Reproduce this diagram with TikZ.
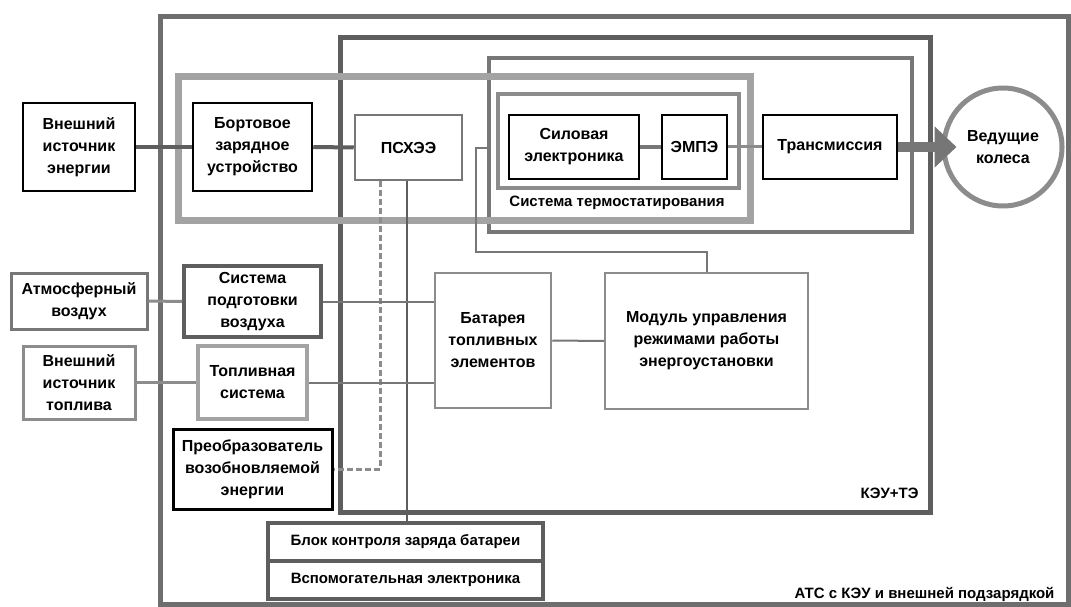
\documentclass[tikz,border=0pt]{standalone}
\usepackage{fontspec}
\setmainfont{Liberation Sans}
\usetikzlibrary{arrows.meta}
\definecolor{fdark}{HTML}{5E5E5E}
\definecolor{fmid}{HTML}{777777}
\definecolor{flight}{HTML}{8C8C8C}
\definecolor{fpale}{HTML}{A3A3A3}
\begin{document}
\begin{tikzpicture}[x=1pt,y=-1pt,
  txt/.style={font=\bfseries\fontsize{16}{22}\selectfont, align=center},
  lbl/.style={font=\bfseries\fontsize{15}{20}\selectfont, align=center},
  blk/.style={txt, draw=black, fill=white, line width=2.5pt, inner sep=0pt},
  gblk/.style={txt, draw=fmid, fill=white, line width=2.5pt, inner sep=0pt},
  conn/.style={draw=fmid, line width=2pt},
  thick conn/.style={draw=fdark, line width=4pt}
]
\useasboundingbox (0,0) rectangle (1071,607);
\fill[white] (0,0) rectangle (1071,607);

% frames
\draw[fdark!90, line width=5pt] (160,17) rectangle (1068,604.5);
\draw[fdark, line width=5pt] (340,38) rectangle (930,512);
\draw[fmid, line width=4pt] (489,58) rectangle (912,232);
\draw[fpale, line width=7pt] (178,77) rectangle (750,220);
\draw[flight, line width=4pt] (498,94) rectangle (739,188);

% nodes
\node[blk, minimum width=112pt, minimum height=88pt] (extE) at (79,147) {Внешний\\источник\\энергии};
\node[blk, minimum width=119pt, minimum height=88pt] (obc) at (252.5,147) {Бортовое\\зарядное\\устройство};
\node[gblk, minimum width=107pt, minimum height=65pt] (pshee) at (408.5,147.5) {ПСХЭЭ};
\node[blk, minimum width=130pt, minimum height=64pt] (sil) at (574,147) {Силовая\\электроника};
\node[blk, minimum width=65pt, minimum height=64pt] (emp) at (694.5,147) {ЭМПЭ};
\node[blk, minimum width=134pt, minimum height=64pt] (trans) at (830,147) {Трансмиссия};
\node[txt, circle, draw=flight, fill=white, line width=5pt, minimum size=118pt, inner sep=0pt] (wheels) at (1003,147) {Ведущие\\колеса};

\node[txt, draw=fmid, fill=white, line width=3pt, inner sep=0pt, minimum width=136pt, minimum height=56pt] (air) at (79,301) {Атмосферный\\воздух};
\node[txt, draw=fdark, fill=white, line width=4pt, inner sep=0pt, minimum width=137pt, minimum height=71pt] (airprep) at (252.5,301.5) {Система\\подготовки\\воздуха};
\node[txt, draw=flight, fill=white, line width=3pt, inner sep=0pt, minimum width=112pt, minimum height=73pt] (fuelsrc) at (79,382.5) {Внешний\\источник\\топлива};
\node[txt, draw=fpale, fill=white, line width=4pt, inner sep=0pt, minimum width=109pt, minimum height=73pt] (fuelsys) at (252.5,382.5) {Топливная\\система};
\node[blk, line width=3pt, minimum width=159pt, minimum height=80pt] (conv) at (252.5,469) {Преобразователь\\возобновляемой\\энергии};
\node[txt, draw=flight, fill=white, line width=2.5pt, inner sep=0pt, minimum width=116pt, minimum height=135pt] (fc) at (493,340.5) {Батарея\\топливных\\элементов};
\node[txt, draw=flight, fill=white, line width=2.5pt, inner sep=0pt, minimum width=203pt, minimum height=136pt] (mod) at (706.5,341) {Модуль управления\\режимами работы\\энергоустановки};
\node[lbl, draw=fdark, fill=white, line width=4pt, inner sep=0pt, minimum width=275pt, minimum height=38pt] (bms) at (405.5,542) {Блок контроля заряда батареи};
\node[lbl, draw=fdark, fill=white, line width=4pt, inner sep=0pt, minimum width=275pt, minimum height=38pt] (aux) at (405.5,580) {Вспомогательная электроника};

% labels
\node[lbl] (thermo) at (617,203) {Система термостатирования};
\node[lbl, anchor=east] (keu) at (922,493) {КЭУ+ТЭ};
\node[lbl, anchor=east] (ats) at (1058,594) {АТС с КЭУ и внешней подзарядкой};

% connectors
\coordinate (innerL) at (489,148);
\draw[thick conn] (extE.east) -- (obc.west);
\draw[thick conn] (obc.east) -- (pshee.west);
\draw[draw=fmid, line width=4pt] (sil.east) -- (emp.west);
\draw[draw=flight, line width=3pt] (emp.east) -- (trans.west);
\draw[draw=fdark!85, line width=10pt, -{Triangle[length=22pt,width=40pt]}] (trans.east) -- ([xshift=15pt]wheels.west);
\draw[conn] (mod.north) -- ++(0,-20) -| (476,148) -- (innerL);
\draw[draw=flight, line width=3pt, dash pattern=on 6pt off 3pt] ([xshift=-28.5pt]pshee.south) |- (conv.east);
\draw[draw=fdark, line width=2.5pt] ([xshift=-1.5pt]pshee.south) -- ([xshift=-1.5pt]pshee.south |- bms.north);
\draw[draw=flight, line width=3pt] (air.east) -- (airprep.west);
\draw[conn] (airprep.east) -- (fc.west |- airprep.east);
\draw[draw=flight, line width=3pt] (fuelsrc.east) -- (fuelsys.west);
\draw[conn] (fuelsys.east) -- (fc.west |- fuelsys.east);
\draw[conn] (fc.east) -- (mod.west);
\end{tikzpicture}
\end{document}
